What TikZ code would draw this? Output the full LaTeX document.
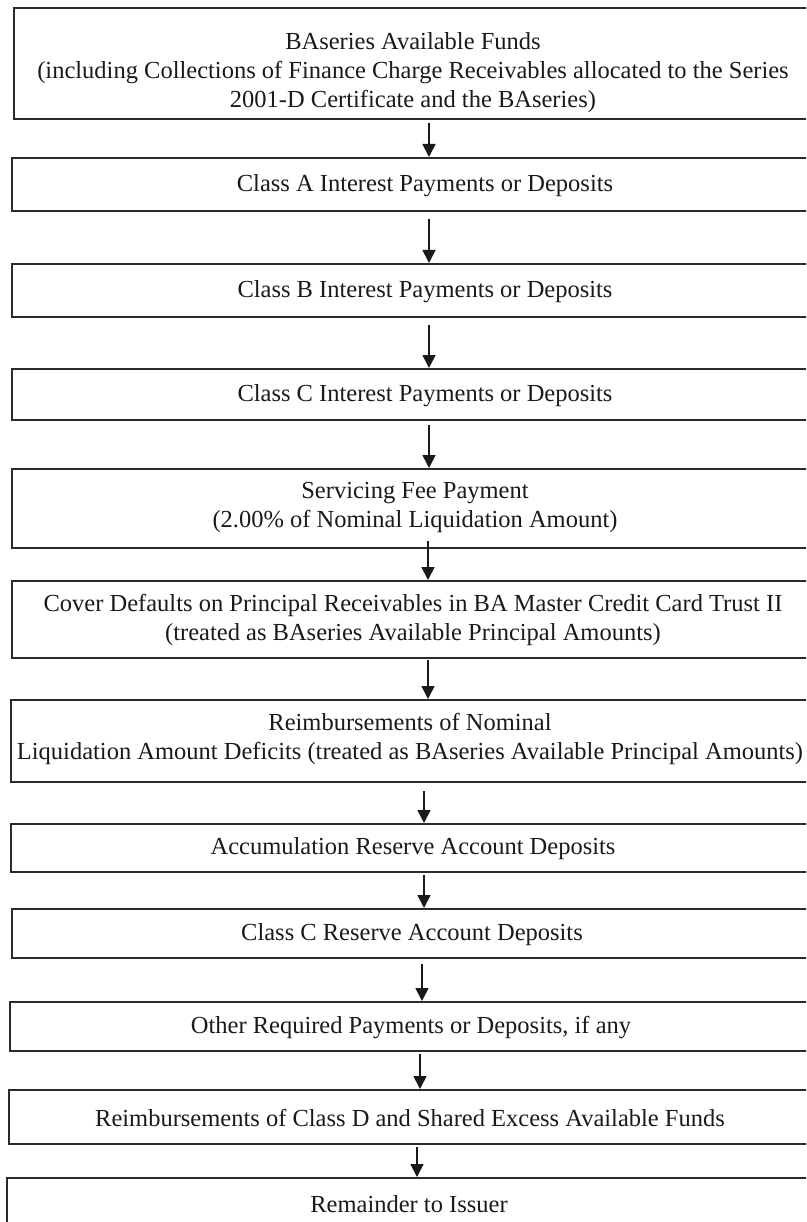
\documentclass[tikz,border=0pt]{standalone}
\usepackage{fontspec}
\setmainfont{Liberation Serif}
\usetikzlibrary{arrows.meta,calc}
\definecolor{boxgray}{HTML}{2B2B2B}
\definecolor{inkblack}{HTML}{1A1A1A}
\tikzset{
  flowbox/.style={draw=boxgray, line width=1.8pt, rectangle, inner sep=0pt, anchor=north west},
  boxtext/.style={font=\fontsize{24.5}{29}\selectfont, align=center, text=inkblack, inner sep=0pt},
  flowarrow/.style={draw=inkblack, line width=1.6pt, -{Triangle[width=13pt,length=13pt]}}
}
\begin{document}
\begin{tikzpicture}[x=1pt, y=-1pt]
\useasboundingbox (0,0) rectangle (806,1222);
\fill[white] (0,0) rectangle (806,1222);
\clip (0,0) rectangle (806,1222);

% boxes (top-left corner, height); right edges run off the page
\node[flowbox, minimum width=840pt, minimum height=111pt] (b1) at (13,7) {};
\node[flowbox, minimum width=840pt, minimum height=53pt] (b2) at (11,157) {};
\node[flowbox, minimum width=840pt, minimum height=53pt] (b3) at (11,263) {};
\node[flowbox, minimum width=840pt, minimum height=51pt] (b4) at (11,368) {};
\node[flowbox, minimum width=840pt, minimum height=79pt] (b5) at (11,468) {};
\node[flowbox, minimum width=840pt, minimum height=77pt] (b6) at (11,580) {};
\node[flowbox, minimum width=840pt, minimum height=82pt] (b7) at (10,699) {};
\node[flowbox, minimum width=840pt, minimum height=48pt] (b8) at (10,823) {};
\node[flowbox, minimum width=840pt, minimum height=49pt] (b9) at (11,908) {};
\node[flowbox, minimum width=840pt, minimum height=49pt] (b10) at (9,1001) {};
\node[flowbox, minimum width=840pt, minimum height=54pt] (b11) at (8,1089) {};
\node[flowbox, minimum width=840pt, minimum height=53pt] (b12) at (6,1177) {};

% texts, placed relative to each box's left edge
\node[boxtext] (t1) at ($(b1.west)+(400,9)$) {BAseries Available Funds\\(including Collections of Finance Charge Receivables allocated to the Series\\2001-D Certificate and the BAseries)};
\node[boxtext] (t2) at ($(b2.west)+(414,1)$) {Class A Interest Payments or Deposits};
\node[boxtext] (t3) at ($(b3.west)+(414,1)$) {Class B Interest Payments or Deposits};
\node[boxtext] (t4) at ($(b4.west)+(414,1)$) {Class C Interest Payments or Deposits};
\node[boxtext] (t5) at ($(b5.west)+(404,-1)$) {Servicing Fee Payment\\(2.00\% of Nominal Liquidation Amount)};
\node[boxtext] (t6) at ($(b6.west)+(402,1)$) {Cover Defaults on Principal Receivables in BA Master Credit Card Trust II\\(treated as BAseries Available Principal Amounts)};
\node[boxtext] (t7) at ($(b7.west)+(400,-2)$) {Reimbursements of Nominal\\Liquidation Amount Deficits (treated as BAseries Available Principal Amounts)};
\node[boxtext] (t8) at ($(b8.west)+(403,1)$) {Accumulation Reserve Account Deposits};
\node[boxtext] (t9) at ($(b9.west)+(401,1)$) {Class C Reserve Account Deposits};
\node[boxtext] (t10) at ($(b10.west)+(402,1)$) {Other Required Payments or Deposits, if any};
\node[boxtext] (t11) at ($(b11.west)+(402,1)$) {Reimbursements of Class D and Shared Excess Available Funds};
\node[boxtext] (t12) at ($(b12.west)+(403,0)$) {Remainder to Issuer};

% arrow columns
\coordinate (a1) at (429,0);
\coordinate (a2) at (429,0);
\coordinate (a3) at (429,0);
\coordinate (a4) at (429,0);
\coordinate (a5) at (428,0);
\coordinate (a6) at (428,0);
\coordinate (a7) at (424,0);
\coordinate (a8) at (424,0);
\coordinate (a9) at (422,0);
\coordinate (a10) at (420,0);
\coordinate (a11) at (417,0);

\draw[flowarrow] ($(b1.south -| a1)+(0,3)$) -- (b2.north -| a1);
\draw[flowarrow] ($(b2.south -| a2)+(0,7)$) -- (b3.north -| a2);
\draw[flowarrow] ($(b3.south -| a3)+(0,7)$) -- (b4.north -| a3);
\draw[flowarrow] ($(b4.south -| a4)+(0,4)$) -- (b5.north -| a4);
\draw[flowarrow] ($(b5.south -| a5)+(0,-8)$) -- (b6.north -| a5);
\draw[flowarrow] ($(b6.south -| a6)+(0,1)$) -- (b7.north -| a6);
\draw[flowarrow] ($(b7.south -| a7)+(0,8)$) -- (b8.north -| a7);
\draw[flowarrow] ($(b8.south -| a8)+(0,2)$) -- (b9.north -| a8);
\draw[flowarrow] ($(b9.south -| a9)+(0,5)$) -- (b10.north -| a9);
\draw[flowarrow] ($(b10.south -| a10)+(0,2)$) -- (b11.north -| a10);
\draw[flowarrow] ($(b11.south -| a11)+(0,2)$) -- (b12.north -| a11);
\end{tikzpicture}
\end{document}
